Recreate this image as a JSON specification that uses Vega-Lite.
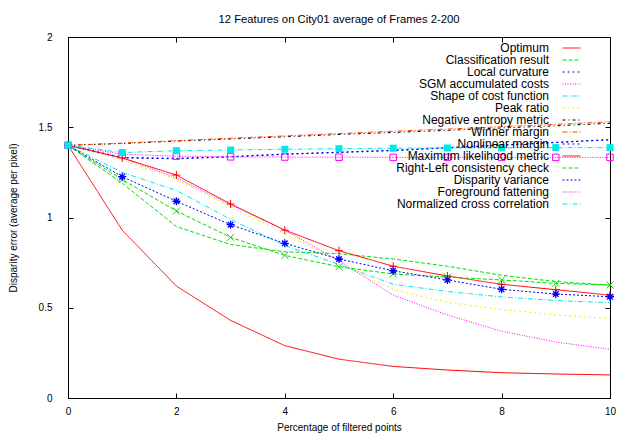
{
  "$schema": "https://vega.github.io/schema/vega-lite/v6.json",
  "width": 542,
  "height": 361,
  "autosize": {"type": "none"},
  "padding": {"left": 68, "top": 37, "right": 11, "bottom": 36},
  "background": "white",
  "config": {
    "font": "Liberation Sans",
    "view": {"stroke": "black", "strokeWidth": 1},
    "axis": {"domainColor": "black", "tickColor": "black", "labelColor": "black", "titleColor": "black", "labelFontSize": 10, "titleFontSize": 10, "titleFontWeight": "normal", "grid": false, "labelFlush": false, "tickSize": -5, "domainWidth": 1, "tickWidth": 1}
  },
  "title": {"text": "12 Features on City01 average of Frames 2-200", "fontSize": 11.3, "fontWeight": "normal", "offset": 7, "anchor": "middle", "color": "black"},
  "data": {"values": [
    {"s":"Optimum","x":0,"y":1.4},{"s":"Optimum","x":1,"y":0.93},{"s":"Optimum","x":2,"y":0.62},{"s":"Optimum","x":3,"y":0.43},{"s":"Optimum","x":4,"y":0.29},{"s":"Optimum","x":5,"y":0.215},{"s":"Optimum","x":6,"y":0.175},{"s":"Optimum","x":7,"y":0.155},{"s":"Optimum","x":8,"y":0.14},{"s":"Optimum","x":9,"y":0.133},{"s":"Optimum","x":10,"y":0.128},
    {"s":"Classification result","x":0,"y":1.4},{"s":"Classification result","x":1,"y":1.19},{"s":"Classification result","x":2,"y":0.95},{"s":"Classification result","x":3,"y":0.85},{"s":"Classification result","x":4,"y":0.81},{"s":"Classification result","x":5,"y":0.8},{"s":"Classification result","x":6,"y":0.77},{"s":"Classification result","x":7,"y":0.73},{"s":"Classification result","x":8,"y":0.68},{"s":"Classification result","x":9,"y":0.645},{"s":"Classification result","x":10,"y":0.625},
    {"s":"Local curvature","x":0,"y":1.4},{"s":"Local curvature","x":1,"y":1.33},{"s":"Local curvature","x":2,"y":1.325},{"s":"Local curvature","x":3,"y":1.335},{"s":"Local curvature","x":4,"y":1.35},{"s":"Local curvature","x":5,"y":1.36},{"s":"Local curvature","x":6,"y":1.37},{"s":"Local curvature","x":7,"y":1.385},{"s":"Local curvature","x":8,"y":1.4},{"s":"Local curvature","x":9,"y":1.415},{"s":"Local curvature","x":10,"y":1.43},
    {"s":"SGM accumulated costs","x":0,"y":1.4},{"s":"SGM accumulated costs","x":1,"y":1.33},{"s":"SGM accumulated costs","x":2,"y":1.22},{"s":"SGM accumulated costs","x":3,"y":1.07},{"s":"SGM accumulated costs","x":4,"y":0.93},{"s":"SGM accumulated costs","x":5,"y":0.76},{"s":"SGM accumulated costs","x":6,"y":0.57},{"s":"SGM accumulated costs","x":7,"y":0.46},{"s":"SGM accumulated costs","x":8,"y":0.37},{"s":"SGM accumulated costs","x":9,"y":0.31},{"s":"SGM accumulated costs","x":10,"y":0.27},
    {"s":"Shape of cost function","x":0,"y":1.4},{"s":"Shape of cost function","x":1,"y":1.25},{"s":"Shape of cost function","x":2,"y":1.15},{"s":"Shape of cost function","x":3,"y":0.99},{"s":"Shape of cost function","x":4,"y":0.845},{"s":"Shape of cost function","x":5,"y":0.74},{"s":"Shape of cost function","x":6,"y":0.63},{"s":"Shape of cost function","x":7,"y":0.59},{"s":"Shape of cost function","x":8,"y":0.56},{"s":"Shape of cost function","x":9,"y":0.54},{"s":"Shape of cost function","x":10,"y":0.528},
    {"s":"Peak ratio","x":0,"y":1.4},{"s":"Peak ratio","x":1,"y":1.32},{"s":"Peak ratio","x":2,"y":1.21},{"s":"Peak ratio","x":3,"y":1.06},{"s":"Peak ratio","x":4,"y":0.91},{"s":"Peak ratio","x":5,"y":0.755},{"s":"Peak ratio","x":6,"y":0.6},{"s":"Peak ratio","x":7,"y":0.53},{"s":"Peak ratio","x":8,"y":0.49},{"s":"Peak ratio","x":9,"y":0.46},{"s":"Peak ratio","x":10,"y":0.44},
    {"s":"Negative entropy metric","x":0,"y":1.4},{"s":"Negative entropy metric","x":1,"y":1.41},{"s":"Negative entropy metric","x":2,"y":1.423},{"s":"Negative entropy metric","x":3,"y":1.435},{"s":"Negative entropy metric","x":4,"y":1.447},{"s":"Negative entropy metric","x":5,"y":1.46},{"s":"Negative entropy metric","x":6,"y":1.471},{"s":"Negative entropy metric","x":7,"y":1.483},{"s":"Negative entropy metric","x":8,"y":1.496},{"s":"Negative entropy metric","x":9,"y":1.508},{"s":"Negative entropy metric","x":10,"y":1.522},
    {"s":"Winner margin","x":0,"y":1.4},{"s":"Winner margin","x":1,"y":1.412},{"s":"Winner margin","x":2,"y":1.426},{"s":"Winner margin","x":3,"y":1.439},{"s":"Winner margin","x":4,"y":1.452},{"s":"Winner margin","x":5,"y":1.465},{"s":"Winner margin","x":6,"y":1.478},{"s":"Winner margin","x":7,"y":1.49},{"s":"Winner margin","x":8,"y":1.503},{"s":"Winner margin","x":9,"y":1.516},{"s":"Winner margin","x":10,"y":1.53},
    {"s":"Nonlinear margin","x":0,"y":1.4},{"s":"Nonlinear margin","x":1,"y":1.333},{"s":"Nonlinear margin","x":2,"y":1.328},{"s":"Nonlinear margin","x":3,"y":1.338},{"s":"Nonlinear margin","x":4,"y":1.352},{"s":"Nonlinear margin","x":5,"y":1.362},{"s":"Nonlinear margin","x":6,"y":1.373},{"s":"Nonlinear margin","x":7,"y":1.388},{"s":"Nonlinear margin","x":8,"y":1.402},{"s":"Nonlinear margin","x":9,"y":1.417},{"s":"Nonlinear margin","x":10,"y":1.432},
    {"s":"Maximum likelihood metric","x":0,"y":1.4},{"s":"Maximum likelihood metric","x":1,"y":1.33},{"s":"Maximum likelihood metric","x":2,"y":1.235},{"s":"Maximum likelihood metric","x":3,"y":1.075},{"s":"Maximum likelihood metric","x":4,"y":0.93},{"s":"Maximum likelihood metric","x":5,"y":0.816},{"s":"Maximum likelihood metric","x":6,"y":0.73},{"s":"Maximum likelihood metric","x":7,"y":0.676},{"s":"Maximum likelihood metric","x":8,"y":0.63},{"s":"Maximum likelihood metric","x":9,"y":0.6},{"s":"Maximum likelihood metric","x":10,"y":0.57},
    {"s":"Right-Left consistency check","x":0,"y":1.4},{"s":"Right-Left consistency check","x":1,"y":1.21},{"s":"Right-Left consistency check","x":2,"y":1.036},{"s":"Right-Left consistency check","x":3,"y":0.89},{"s":"Right-Left consistency check","x":4,"y":0.79},{"s":"Right-Left consistency check","x":5,"y":0.727},{"s":"Right-Left consistency check","x":6,"y":0.687},{"s":"Right-Left consistency check","x":7,"y":0.67},{"s":"Right-Left consistency check","x":8,"y":0.654},{"s":"Right-Left consistency check","x":9,"y":0.635},{"s":"Right-Left consistency check","x":10,"y":0.626},
    {"s":"Disparity variance","x":0,"y":1.4},{"s":"Disparity variance","x":1,"y":1.226},{"s":"Disparity variance","x":2,"y":1.09},{"s":"Disparity variance","x":3,"y":0.96},{"s":"Disparity variance","x":4,"y":0.857},{"s":"Disparity variance","x":5,"y":0.77},{"s":"Disparity variance","x":6,"y":0.705},{"s":"Disparity variance","x":7,"y":0.654},{"s":"Disparity variance","x":8,"y":0.602},{"s":"Disparity variance","x":9,"y":0.576},{"s":"Disparity variance","x":10,"y":0.561},
    {"s":"Foreground fattening","x":0,"y":1.4},{"s":"Foreground fattening","x":1,"y":1.35},{"s":"Foreground fattening","x":2,"y":1.34},{"s":"Foreground fattening","x":3,"y":1.336},{"s":"Foreground fattening","x":4,"y":1.335},{"s":"Foreground fattening","x":5,"y":1.334},{"s":"Foreground fattening","x":6,"y":1.333},{"s":"Foreground fattening","x":7,"y":1.333},{"s":"Foreground fattening","x":8,"y":1.333},{"s":"Foreground fattening","x":9,"y":1.333},{"s":"Foreground fattening","x":10,"y":1.333},
    {"s":"Normalized cross correlation","x":0,"y":1.4},{"s":"Normalized cross correlation","x":1,"y":1.36},{"s":"Normalized cross correlation","x":2,"y":1.37},{"s":"Normalized cross correlation","x":3,"y":1.374},{"s":"Normalized cross correlation","x":4,"y":1.378},{"s":"Normalized cross correlation","x":5,"y":1.381},{"s":"Normalized cross correlation","x":6,"y":1.384},{"s":"Normalized cross correlation","x":7,"y":1.385},{"s":"Normalized cross correlation","x":8,"y":1.386},{"s":"Normalized cross correlation","x":9,"y":1.387},{"s":"Normalized cross correlation","x":10,"y":1.387}
  ]},
  "layer": [
    {
      "mark": {"type": "line", "strokeWidth": 1},
      "encoding": {
        "x": {"field": "x", "type": "quantitative", "scale": {"domain": [0, 10]}, "axis": {"values": [0, 2, 4, 6, 8, 10], "title": "Percentage of filtered points", "labelPadding": 13, "titlePadding": 6}},
        "y": {"field": "y", "type": "quantitative", "scale": {"domain": [0, 2]}, "axis": {"values": [0, 0.5, 1, 1.5, 2], "format": "~g", "title": "Disparity error (average  per pixel)", "labelPadding": 21, "titlePadding": 20}},
        "color": {"field": "s", "type": "nominal", "sort": null,
          "scale": {"domain": ["Optimum", "Classification result", "Local curvature", "SGM accumulated costs", "Shape of cost function", "Peak ratio", "Negative entropy metric", "Winner margin", "Nonlinear margin", "Maximum likelihood metric", "Right-Left consistency check", "Disparity variance", "Foreground fattening", "Normalized cross correlation"],
            "range": ["#ff0000", "#00e000", "#0000ff", "#ff00ff", "#00e8e8", "#f0f000", "#000000", "#ff4800", "#0000ff", "#ff0000", "#00e000", "#0000ff", "#ff00ff", "#00e8e8"]},
          "legend": {"title": null, "orient": "none", "legendX": 497.5, "legendY": 5, "padding": 0, "labelFontSize": 12, "labelColor": "black", "symbolType": "M-3,0L3,0", "symbolSize": 36, "symbolStrokeWidth": 1, "labelAlign": "right", "labelOffset": -28.5, "rowPadding": 0, "labelLimit": 400}},
        "strokeDash": {"field": "s", "type": "nominal", "sort": null,
          "scale": {"domain": ["Optimum", "Classification result", "Local curvature", "SGM accumulated costs", "Shape of cost function", "Peak ratio", "Negative entropy metric", "Winner margin", "Nonlinear margin", "Maximum likelihood metric", "Right-Left consistency check", "Disparity variance", "Foreground fattening", "Normalized cross correlation"],
            "range": [[1, 0], [4, 2], [2, 3], [1, 1.5], [5, 2, 1, 2], [2, 3], [3, 3, 1, 3], [5, 2, 1, 2], [2, 3], [1, 0], [4, 2], [2, 2], [1, 1.5], [5, 2, 1, 2]]},
          "legend": {"title": null, "orient": "none", "legendX": 497.5, "legendY": 5, "padding": 0, "labelFontSize": 12, "labelColor": "black", "symbolType": "M-3,0L3,0", "symbolSize": 36, "symbolStrokeWidth": 1, "labelAlign": "right", "labelOffset": -28.5, "rowPadding": 0, "labelLimit": 400}}
      }
    },
    {
      "transform": [{"filter": {"field": "s", "equal": "Maximum likelihood metric"}}],
      "mark": {"type": "point", "shape": "M-1,0L1,0M0,-1L0,1", "filled": false, "size": 64, "strokeWidth": 1, "color": "#ff0000", "opacity": 1},
      "encoding": {"x": {"field": "x", "type": "quantitative", "axis": null}, "y": {"field": "y", "type": "quantitative", "axis": null}}
    },
    {
      "transform": [{"filter": {"field": "s", "equal": "Right-Left consistency check"}}],
      "mark": {"type": "point", "shape": "M-1,-1L1,1M-1,1L1,-1", "filled": false, "size": 49, "strokeWidth": 1, "color": "#00e000", "opacity": 1},
      "encoding": {"x": {"field": "x", "type": "quantitative", "axis": null}, "y": {"field": "y", "type": "quantitative", "axis": null}}
    },
    {
      "transform": [{"filter": {"field": "s", "equal": "Disparity variance"}}],
      "mark": {"type": "point", "shape": "M-1,0L1,0M0,-1L0,1M-0.7,-0.7L0.7,0.7M-0.7,0.7L0.7,-0.7", "filled": false, "size": 64, "strokeWidth": 1.3, "color": "#0000ff", "opacity": 1},
      "encoding": {"x": {"field": "x", "type": "quantitative", "axis": null}, "y": {"field": "y", "type": "quantitative", "axis": null}}
    },
    {
      "transform": [{"filter": {"field": "s", "equal": "Foreground fattening"}}],
      "mark": {"type": "point", "shape": "square", "filled": false, "size": 42, "strokeWidth": 1, "color": "#ff00ff", "opacity": 1},
      "encoding": {"x": {"field": "x", "type": "quantitative", "axis": null}, "y": {"field": "y", "type": "quantitative", "axis": null}}
    },
    {
      "transform": [{"filter": {"field": "s", "equal": "Normalized cross correlation"}}],
      "mark": {"type": "point", "shape": "square", "filled": true, "size": 49, "color": "#00e8e8", "opacity": 1},
      "encoding": {"x": {"field": "x", "type": "quantitative", "axis": null}, "y": {"field": "y", "type": "quantitative", "axis": null}}
    },
    {
      "mark": {"type": "point", "opacity": 0},
      "encoding": {
        "x": {"field": "x", "type": "quantitative", "axis": {"orient": "top", "values": [0, 2, 4, 6, 8, 10], "labels": false, "title": null}},
        "y": {"field": "y", "type": "quantitative", "axis": {"orient": "right", "values": [0, 0.5, 1, 1.5, 2], "labels": false, "title": null}}
      }
    }
  ],
  "resolve": {"axis": {"x": "independent", "y": "independent"}}
}
